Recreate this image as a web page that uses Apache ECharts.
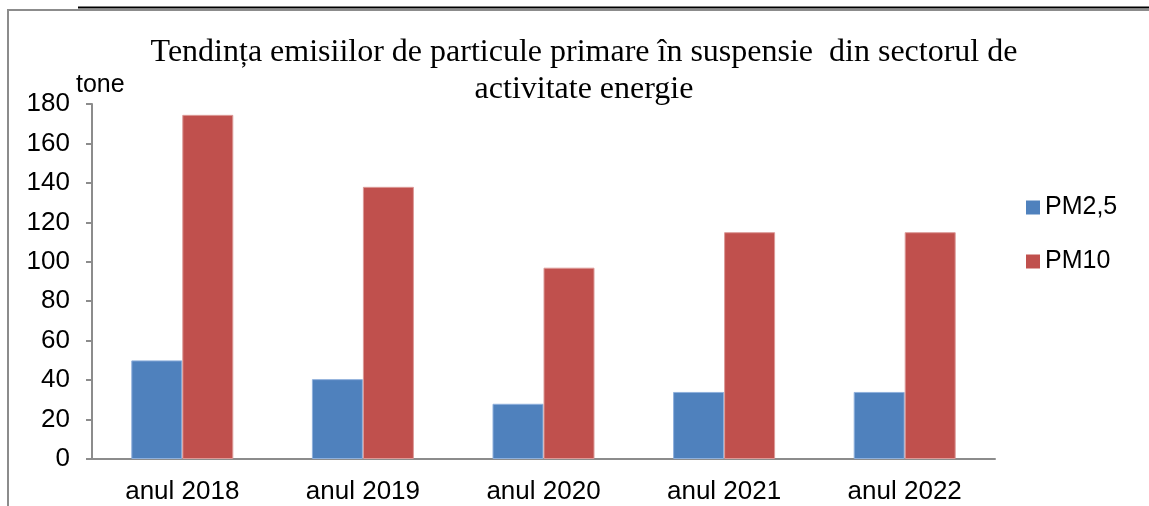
<!DOCTYPE html>
<html><head><meta charset="utf-8">
<script src="https://cdn.jsdelivr.net/npm/echarts@6/dist/echarts.min.js"></script>
<style>html,body{margin:0;padding:0;background:#fff}#c{width:1149px;height:506px}</style>
</head><body><div id="c"></div>
<script>
const categories = ['anul 2018','anul 2019','anul 2020','anul 2021','anul 2022'];
const pm25 = [50, 40.5, 28, 34, 34];
const pm10 = [174.5, 138, 97, 115, 115];
const yTicks = {min: 0, max: 180, interval: 20};
const seriesNames = ['PM2,5', 'PM10'];

const chart = echarts.init(document.getElementById('c'));
chart.setOption({
  backgroundColor: '#fff',
  animation: false,
  graphic: [
    {type:'rect', shape:{x:8, y:10, width:1300, height:600}, style:{fill:'none', stroke:'#8c8c8c', lineWidth:2}},
    {type:'line', shape:{x1:78, y1:7.5, x2:1149, y2:7.5}, style:{stroke:'#000', lineWidth:2}},
    {type:'text', x: 584, y: 34, style:{text:'Tendința emisiilor de particule primare în suspensie  din sectorul de\nactivitate energie', font:'32px "Liberation Serif", "Times New Roman", serif', fill:'#000', align:'center', verticalAlign:'top', lineHeight:37}}
  ],
  legend: {
    orient: 'vertical', left: 1021, top: 190,
    itemWidth: 14, itemHeight: 14, itemGap: 29,
    icon: 'rect',
    itemStyle: {borderWidth: 0},
    textStyle: {fontFamily: 'Liberation Sans, Arial, sans-serif', fontSize: 25, color: '#000', padding:[0,0,0,0]},
    data: seriesNames
  },
  grid: {left: 92, right: 154, top: 104, bottom: 47, containLabel: false},
  xAxis: {
    type: 'category', data: categories,
    axisLine: {lineStyle: {color: '#8c8c8c', width: 2}},
    axisTick: {show: false},
    axisLabel: {fontFamily: 'Liberation Sans, Arial, sans-serif', fontSize: 26, color: '#000', margin: 20}
  },
  yAxis: {
    type: 'value', min: yTicks.min, max: yTicks.max, interval: yTicks.interval,
    name: 'tone', nameLocation: 'end', nameGap: 6,
    nameTextStyle: {fontFamily: 'Liberation Sans, Arial, sans-serif', fontSize: 25, color: '#000', align: 'left', padding: [0,0,0,-16]},
    axisLine: {show: true, lineStyle: {color: '#8c8c8c', width: 2}},
    axisTick: {show: true, length: 6, lineStyle: {color: '#8c8c8c', width: 2}},
    splitLine: {show: false},
    axisLabel: {fontFamily: 'Liberation Sans, Arial, sans-serif', fontSize: 26, color: '#000', margin: 22}
  },
  series: [
    {name: seriesNames[0], type: 'bar', data: pm25, barWidth: 51, barGap: '0%', itemStyle: {color: '#4F81BD', borderColor: '#8fb0dc', borderWidth: 1}},
    {name: seriesNames[1], type: 'bar', data: pm10, barWidth: 51, itemStyle: {color: '#C0504D', borderColor: '#dc9a98', borderWidth: 1}}
  ]
});
</script></body></html>
